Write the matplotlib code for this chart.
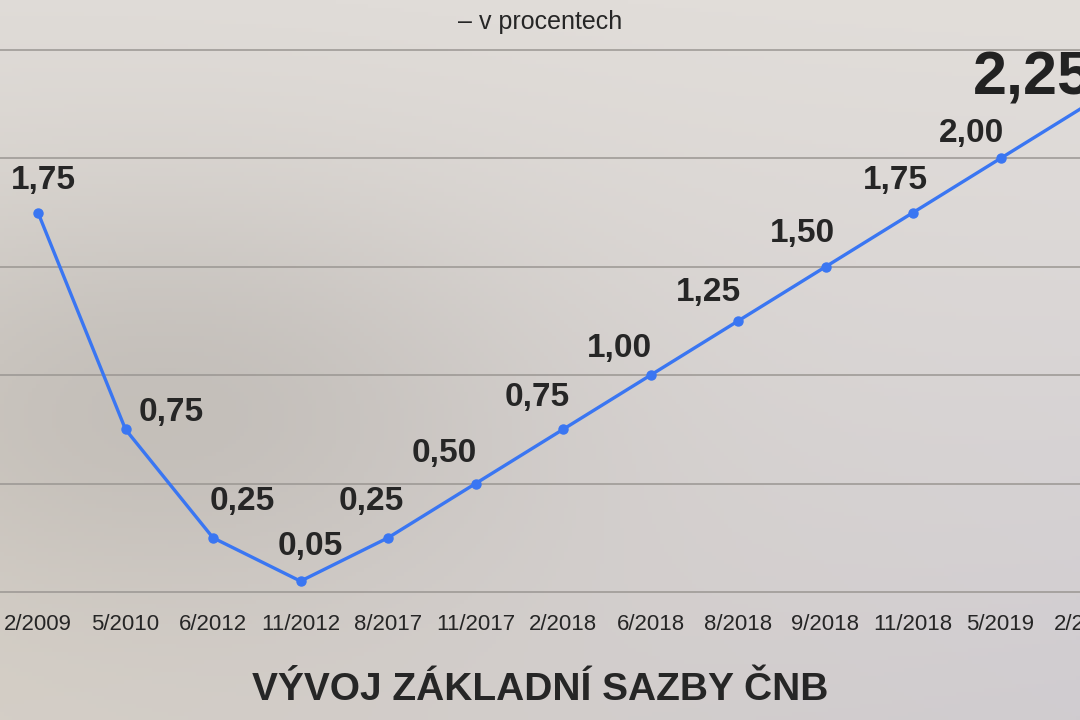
import numpy as np
import matplotlib
matplotlib.use('Agg')
import matplotlib.pyplot as plt

dates = ['2/2009', '5/2010', '6/2012', '11/2012', '8/2017', '11/2017', '2/2018',
         '6/2018', '8/2018', '9/2018', '11/2018', '5/2019', '2/2020']
rates = [1.75, 0.75, 0.25, 0.05, 0.25, 0.50, 0.75, 1.00, 1.25, 1.50, 1.75, 2.00, 2.25]
labels = ['1,75', '0,75', '0,25', '0,05', '0,25', '0,50', '0,75', '1,00', '1,25',
          '1,50', '1,75', '2,00', '2,25']

# label offsets from each point, in pixels
offs = [(5, 32), (46, 17), (29, 36), (10, 35), (-17, 36), (-31, 30), (-26, 32),
        (-31, 27), (-30, 28), (-23, 33), (-18, 32), (-29, 25)]

plt.rcParams['font.family'] = ['Liberation Sans', 'DejaVu Sans']

fig = plt.figure(figsize=(10.8, 7.2), dpi=100)

# background gradient
bg = fig.add_axes([0, 0, 1, 1])
h, w = 180, 270
yy, xx = np.mgrid[0:1:h * 1j, 0:1:w * 1j]
tl = np.array([224, 220, 216]); tr = np.array([226, 222, 218])
bl = np.array([214, 208, 200]); br = np.array([208, 204, 208])
img = ((1 - xx)[..., None] * (1 - yy)[..., None] * tl + xx[..., None] * (1 - yy)[..., None] * tr
       + (1 - xx)[..., None] * yy[..., None] * bl + xx[..., None] * yy[..., None] * br)
dark = np.exp(-(((xx - 0.15) / 0.35) ** 2 + ((yy - 0.55) / 0.3) ** 2))
img = img - 22 * dark[..., None]
bg.imshow(img / 255, aspect='auto', extent=[0, 1, 0, 1])
bg.axis('off')

ax = fig.add_axes([0, 128 / 720, 1, 542 / 720])
ax.patch.set_alpha(0)
x = np.arange(len(rates))
ax.set_xlim(-38 / 87.5, (1080 - 38) / 87.5)
ax.set_ylim(0, 2.5)
for v in [0, 0.5, 1.0, 1.5, 2.0, 2.5]:
    ax.axhline(v, color='#9a9692', lw=1.1, zorder=1, clip_on=False)
ax.plot(x, rates, color='#3a76f2', lw=2.4, marker='o', ms=6.5, zorder=3, clip_on=False)

for i in range(len(offs)):
    ax.annotate(labels[i], (x[i], rates[i]), xytext=offs[i], textcoords='offset pixels',
                ha='center', va='center', fontsize=24, fontweight='bold', color='#262626')
ax.annotate(labels[-1], (x[-1], rates[-1]), xytext=(-115, 25), textcoords='offset pixels',
            ha='left', va='center', fontsize=44, fontweight='heavy', color='#222222',
            annotation_clip=False)

for i, d in enumerate(dates):
    ax.annotate(d, (x[i], 0), xytext=(0, -32), textcoords='offset pixels',
                ha='center', va='center', fontsize=16, color='#262626',
                annotation_clip=False)

for s in ax.spines.values():
    s.set_visible(False)
ax.set_xticks([])
ax.set_yticks([])

fig.text(0.5, 1 - 22 / 720, '– v procentech', ha='center', va='center',
         fontsize=18, color='#262626')
fig.text(0.5, 1 - 690 / 720, 'VÝVOJ ZÁKLADNÍ SAZBY ČNB', ha='center', va='center',
         fontsize=28, fontweight='bold', color='#262626')

plt.savefig('out.png', dpi=100)
